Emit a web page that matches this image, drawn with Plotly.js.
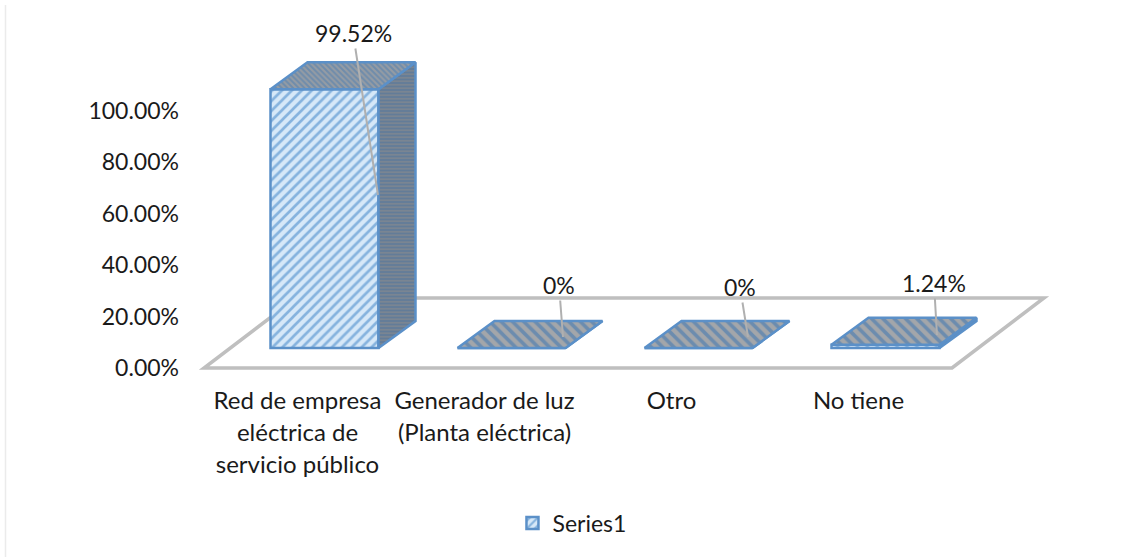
<!DOCTYPE html>
<html>
<head>
<meta charset="utf-8">
<script src="https://cdn.plot.ly/plotly-3.0.1.min.js"></script>
<style>html,body{margin:0;padding:0;background:#fff}#chart{width:1133px;height:558px}</style>
</head>
<body>
<div id="chart"></div>
<script>
// ---- data ----
const categories = [
  ["Red de empresa", "eléctrica de", "servicio público"],
  ["Generador de luz", "(Planta eléctrica)"],
  ["Otro"],
  ["No tiene"]
];
const seriesName = "Series1";
const values = [99.52, 0, 0, 1.24];
const valueLabels = ["99.52%", "0%", "0%", "1.24%"];
const yTicks = [0, 20, 40, 60, 80, 100];

// ---- 3D look: everything is derived from the axes' units ----
const catPx = 187, yPx = 2.57, barYPx = 2.6;
const barOffset = 27 / catPx, barWidth = 108 / catPx;
const depthX = 37 / catPx, depthY = 27 / barYPx;
const floorDX = 92 / catPx, floorDY = 70 / yPx;
const idx = values.map((_, i) => i);
const L = i => i + barOffset - barWidth / 2;
const R = i => i + barOffset + barWidth / 2;

const sideX = [], sideY = [], topX = [], topY = [], lowX = [], lowY = [];
idx.forEach(i => {
  const v = values[i];
  sideX.push(R(i), R(i) + depthX, R(i) + depthX, R(i), R(i), null);
  sideY.push(0, depthY, v + depthY, v, 0, null);
  const tx = v > 50 ? topX : lowX, ty = v > 50 ? topY : lowY;
  tx.push(L(i), R(i), R(i) + depthX, L(i) + depthX, L(i), null);
  ty.push(v, v, v + depthY, v + depthY, v, null);
});

const edge = "#5b90c8";
const traces = [
  {
    type: "bar", name: seriesName, x: idx.map(i => i + barOffset), y: values, width: barWidth,
    xaxis: "x", yaxis: "y2", showlegend: true, hoverinfo: "skip",
    marker: { color: "#d3e6f7", line: { color: edge, width: 2.5 },
      pattern: { shape: "/", fgcolor: "#86b3de", bgcolor: "#d6e8f8", size: 7, solidity: 0.38 } }
  },
  {
    type: "scatter", mode: "lines", x: sideX, y: sideY, xaxis: "x", yaxis: "y2",
    fill: "toself", fillcolor: "#66809c", showlegend: false, hoverinfo: "skip",
    fillpattern: { shape: "-", fgcolor: "#7a8592", bgcolor: "#637c98", size: 3.5, solidity: 0.5 },
    line: { color: edge, width: 2.5 }
  },
  {
    type: "scatter", mode: "lines", x: topX, y: topY, xaxis: "x", yaxis: "y2",
    fill: "toself", fillcolor: "#7f95ab", showlegend: false, hoverinfo: "skip",
    fillpattern: { shape: "\\", fgcolor: "#959ca4", bgcolor: "#6f8cab", size: 4, solidity: 0.5 },
    line: { color: edge, width: 2.5 }
  },
  {
    type: "scatter", mode: "lines", x: lowX, y: lowY, xaxis: "x", yaxis: "y2",
    fill: "toself", fillcolor: "#7f95ab", showlegend: false, hoverinfo: "skip",
    fillpattern: { shape: "\\", fgcolor: "#a3a6aa", bgcolor: "#6c8cae", size: 8, solidity: 0.55 },
    line: { color: edge, width: 2.5 }
  }
];

const leaders = [
  { tipX: 378, tipY: 195, textX: 353, textY: 33 },
  { tipX: 563, tipY: 337, textX: 559, textY: 285 },
  { tipX: 748, tipY: 337, textX: 740, textY: 287 },
  { tipX: 937, tipY: 335, textX: 934, textY: 283 }
];
const x0Px = 297.5, y2ZeroPx = 348;
const labelAnns = idx.map(i => ({
  text: valueLabels[i], xref: "x", yref: "y2",
  x: (leaders[i].tipX - x0Px) / catPx, y: (y2ZeroPx - leaders[i].tipY) / barYPx,
  axref: "pixel", ayref: "pixel",
  ax: leaders[i].textX - leaders[i].tipX, ay: leaders[i].textY - leaders[i].tipY,
  showarrow: true, arrowhead: 0, arrowwidth: 2, arrowcolor: "#b0b0b0",
  font: { family: "Lato, sans-serif", size: 23, color: "#1a1a1a" }
}));

const layout = {
  width: 1133, height: 558,
  margin: { l: 194, r: 79, t: 20, b: 180, pad: 0 },
  paper_bgcolor: "#ffffff", plot_bgcolor: "rgba(0,0,0,0)",
  font: { family: "Lato, sans-serif", size: 23, color: "#1a1a1a" },
  barmode: "overlay",
  xaxis: {
    range: [-0.5535, 4.0455], tickmode: "array", tickvals: idx,
    ticktext: categories.map(c => c.map(s => '<span style="font-size:24px">' + s + "</span>").join("<br>")),
    tickfont: { family: "Lato, sans-serif", size: 24.6, color: "#1a1a1a" },
    showgrid: false, zeroline: false, showline: false, ticks: "", ticklabelstandoff: 5, fixedrange: true
  },
  yaxis: {
    range: [-3.891, 135.41], tickmode: "array", tickvals: yTicks,
    ticktext: yTicks.map(t => t.toFixed(2) + "%"),
    showgrid: false, zeroline: false, showline: false, ticks: "", ticklabelstandoff: 14, fixedrange: true
  },
  yaxis2: { overlaying: "y", range: [-11.538, 126.154], visible: false, fixedrange: true },
  shapes: [{
    type: "path", xref: "x", yref: "y", layer: "below",
    path: `M -0.5 0 L 3.5 0 L ${3.5 + floorDX} ${floorDY} L ${-0.5 + floorDX} ${floorDY} Z`,
    line: { color: "#bfbfbf", width: 3.5 }, fillcolor: "rgba(0,0,0,0)"
  }, {
    type: "line", xref: "paper", yref: "paper", layer: "below",
    x0: (5.5 - 194) / 860, x1: (5.5 - 194) / 860, y0: (378 - 557) / 358, y1: (378 - 5) / 358,
    line: { color: "#ebebeb", width: 1.5 }
  }],
  annotations: labelAnns,
  showlegend: true,
  legend: { orientation: "h", x: 0.4395, xanchor: "center", y: -0.405, yanchor: "middle",
    font: { family: "Lato, sans-serif", size: 23, color: "#1a1a1a" }, bgcolor: "rgba(0,0,0,0)" }
};

Plotly.newPlot("chart", traces, layout, { displayModeBar: false, responsive: false });
</script>
</body>
</html>
